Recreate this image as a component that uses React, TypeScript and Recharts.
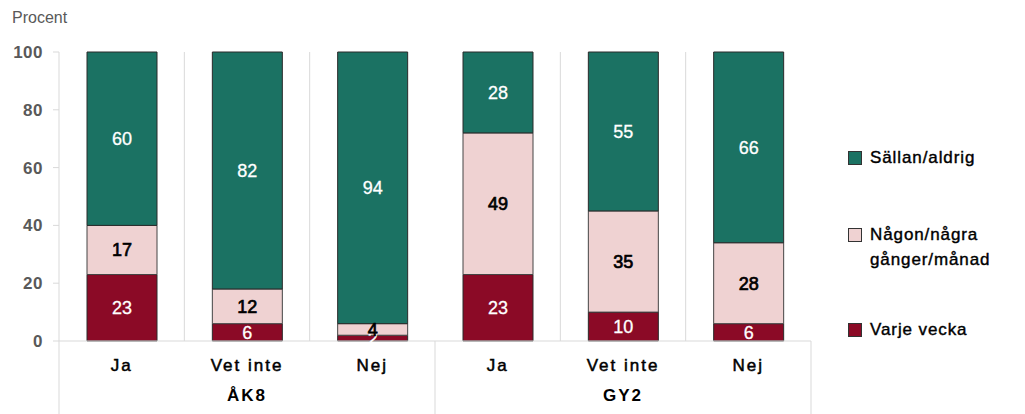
import React from "react";
import { BarChart, Bar, XAxis, YAxis, CartesianGrid, LabelList } from "recharts";

const categories = ["Ja", "Vet inte", "Nej", "Ja", "Vet inte", "Nej"];
const groups = ["ÅK8", "ÅK8", "ÅK8", "GY2", "GY2", "GY2"];
const varjeVecka = [23, 6, 2, 23, 10, 6];
const nagonGanger = [17, 12, 4, 49, 35, 28];
const sallanAldrig = [60, 82, 94, 28, 55, 66];
const yTicks = [0, 20, 40, 60, 80, 100];

const seriesNames = ["Sällan/aldrig", "Någon/några gånger/månad", "Varje vecka"];
const COLORS = { varje: "#8b0a26", nagon: "#efd2d2", sallan: "#1b7263" };

const data = categories.map((c, i) => ({
  key: `${groups[i]}-${c}-${i}`,
  cat: c,
  grp: groups[i],
  varje: varjeVecka[i],
  nagon: nagonGanger[i],
  sallan: sallanAldrig[i],
}));

const W = 1025;
const H = 414;
const M = { top: 52, right: 214, left: 9, bottom: 0 };
const YW = 50;
const plotLeft = M.left + YW;
const plotWidth = W - M.right - plotLeft;
const band = plotWidth / categories.length;
const FONT = "'Liberation Sans', Arial, sans-serif";

const CatTick = (props: any) => {
  const { x, y, payload, index } = props;
  const lines: React.ReactNode[] = [];
  if (index === 0 || index === 3) {
    lines.push(<line key="l" x1={x - band / 2} x2={x - band / 2} y1={y - 8} y2={H} stroke="#d9d9d9" strokeWidth={1} />);
  }
  if (index === categories.length - 1) {
    lines.push(<line key="r" x1={x + band / 2} x2={x + band / 2} y1={y - 8} y2={H} stroke="#d9d9d9" strokeWidth={1} />);
  }
  return (
    <g>
      {lines}
      <text x={x} y={y + 22} textAnchor="middle" fontFamily={FONT} fontSize={17} letterSpacing={2} fill="#000" stroke="#000" strokeWidth={0.5}>
        {payload.value}
      </text>
    </g>
  );
};

const GrpTick = (props: any) => {
  const { x, y, payload, index } = props;
  if (index !== 1 && index !== 4) return <g />;
  return (
    <text x={x} y={y + 12} textAnchor="middle" fontFamily={FONT} fontSize={17} fontWeight={700} letterSpacing={2} fill="#000">
      {payload.value}
    </text>
  );
};

const legendItems = [
  { name: seriesNames[0], color: COLORS.sallan, lines: ["Sällan/aldrig"], top: 148 },
  { name: seriesNames[1], color: COLORS.nagon, lines: ["Någon/några", "gånger/månad"], top: 225 },
  { name: seriesNames[2], color: COLORS.varje, lines: ["Varje vecka"], top: 320 },
];

const LegendContent = () => (
  <div style={{ position: "absolute", left: 848, top: 0, width: 177, height: 414 }}>
    {legendItems.map((it) => (
      <div key={it.name} style={{ position: "absolute", left: 0, top: it.top, display: "flex" }}>
        <div
          style={{
            width: 14,
            height: 14,
            background: it.color,
            border: "1px solid #333",
            marginTop: 3,
            marginRight: 8,
            boxSizing: "border-box",
            flexShrink: 0,
          }}
        />
        <div
          style={{
            fontFamily: FONT,
            fontSize: 17,
            lineHeight: "25px",
            letterSpacing: 0.9,
            color: "#000",
            marginTop: -3,
            whiteSpace: "nowrap",
            WebkitTextStroke: "0.4px #000",
          }}
        >
          {it.lines.map((l) => (
            <div key={l}>{l}</div>
          ))}
        </div>
      </div>
    ))}
  </div>
);

export default function App() {
  return (
    <div style={{ position: "absolute", left: 0, top: 0, width: W, height: H, background: "#fff" }}>
      <div style={{ position: "absolute", left: 12, top: 9, fontFamily: FONT, fontSize: 16, color: "#595959" }}>Procent</div>
      <BarChart width={W} height={H} data={data} margin={M} barSize={70}>
        <CartesianGrid
          horizontal={false}
          vertical={true}
          stroke="#d9d9d9"
          verticalCoordinatesGenerator={() => [1, 2, 4, 5].map((i) => plotLeft + i * band)}
        />
        <YAxis
          width={YW}
          domain={[0, 100]}
          ticks={yTicks}
          interval={0}
          tickSize={6}
          tickMargin={10}
          axisLine={{ stroke: "#d9d9d9" }}
          tickLine={{ stroke: "#d9d9d9" }}
          tick={{ fontFamily: FONT, fontSize: 17, fontWeight: 700, fill: "#595959", letterSpacing: 0.5 }}
        />
        <XAxis
          dataKey="key"
          height={40}
          interval={0}
          axisLine={{ stroke: "#d9d9d9" }}
          tickLine={false}
          tick={(p: any) => <CatTick {...p} payload={{ value: categories[p.index] }} />}
        />
        <XAxis
          xAxisId="grp"
          dataKey="key"
          height={33}
          interval={0}
          axisLine={false}
          tickLine={false}
          tick={(p: any) => <GrpTick {...p} payload={{ value: groups[p.index] }} />}
        />
        <Bar dataKey="varje" name={seriesNames[2]} stackId="a" fill={COLORS.varje} stroke="#2a2a2a" strokeWidth={1} isAnimationActive={false}>
          <LabelList dataKey="varje" position="center" fill="#fff" stroke="#fff" strokeWidth={0.3} fontFamily={FONT} fontSize={18} />
        </Bar>
        <Bar dataKey="nagon" name={seriesNames[1]} stackId="a" fill={COLORS.nagon} stroke="#444" strokeWidth={1} isAnimationActive={false}>
          <LabelList dataKey="nagon" position="center" fill="#000" stroke="#000" strokeWidth={0.7} fontFamily={FONT} fontSize={18} />
        </Bar>
        <Bar dataKey="sallan" name={seriesNames[0]} stackId="a" fill={COLORS.sallan} stroke="#2a2a2a" strokeWidth={1} isAnimationActive={false}>
          <LabelList dataKey="sallan" position="center" fill="#fff" stroke="#fff" strokeWidth={0.3} fontFamily={FONT} fontSize={18} />
        </Bar>
      </BarChart>
      <LegendContent />
    </div>
  );
}
